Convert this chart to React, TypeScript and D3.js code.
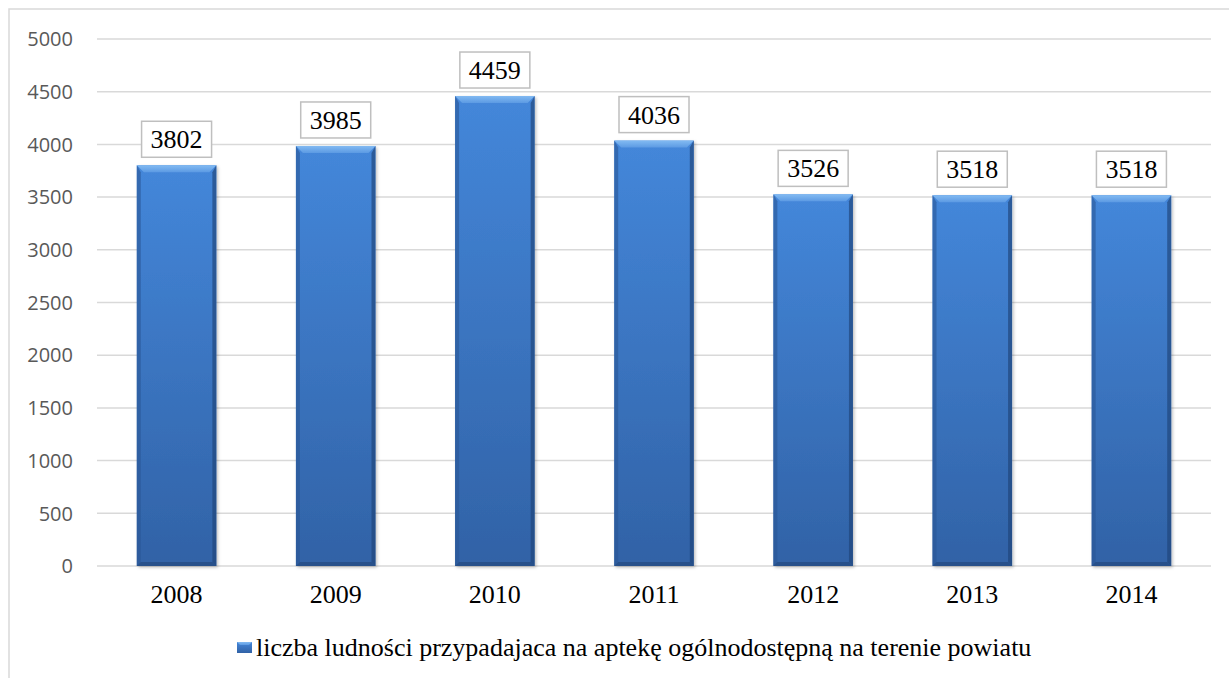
import React from "react";
import * as d3 from "d3";

const years = ["2008", "2009", "2010", "2011", "2012", "2013", "2014"];
const values = [3802, 3985, 4459, 4036, 3526, 3518, 3518];
const yTicks = [0, 500, 1000, 1500, 2000, 2500, 3000, 3500, 4000, 4500, 5000];
const seriesName = "liczba ludności przypadajaca na aptekę ogólnodostępną na terenie powiatu";

const W = 1229;
const H = 678;
const plotLeft = 97;
const plotRight = 1211;
const plotTop = 39;
const plotBottom = 566;

export default function App() {
  const x = d3.scaleBand<string>().domain(years).range([plotLeft, plotRight]).paddingInner(0.5).paddingOuter(0.25);
  const y = d3.scaleLinear().domain([0, 5000]).range([plotBottom, plotTop]);
  const bw = x.bandwidth();
  const serif = "'Liberation Serif', 'DejaVu Serif', serif";
  const sans = "'Open Sans', 'Liberation Sans', sans-serif";
  const bev = 7;
  const side = 4;

  return (
    <svg width={W} height={H} style={{ position: "absolute", left: 0, top: 0 }}>
      <defs>
        <linearGradient id="barGrad" x1="0" y1="0" x2="0" y2="1">
          <stop offset="0" stopColor="#4487da" />
          <stop offset="1" stopColor="#3162a6" />
        </linearGradient>
        <linearGradient id="topGrad" x1="0" y1="0" x2="0" y2="1">
          <stop offset="0" stopColor="#82baf2" />
          <stop offset="1" stopColor="#5c9ae3" />
        </linearGradient>
        <filter id="shadow" x="-20%" y="-5%" width="140%" height="110%">
          <feDropShadow dx="1.5" dy="1.5" stdDeviation="1.5" floodColor="#000" floodOpacity="0.25" />
        </filter>
      </defs>
      <rect x={0} y={0} width={W} height={H} fill="#ffffff" />
      <rect x={9} y={9} width={W + 50} height={H + 50} fill="none" stroke="#d9d9d9" strokeWidth={1.5} />

      {yTicks.map((t) => (
        <g key={t}>
          <line x1={plotLeft} x2={plotRight} y1={y(t)} y2={y(t)} stroke="#d9d9d9" strokeWidth={1.5} />
          <text x={73} y={y(t)} dy="0.36em" textAnchor="end" fontFamily={sans} fontSize={20} fill="#595959">
            {t}
          </text>
        </g>
      ))}

      {years.map((yr, i) => {
        const x0 = x(yr)!;
        const x1 = x0 + bw;
        const y0 = y(values[i]);
        const y1 = plotBottom;
        const cx = x0 + bw / 2;
        return (
          <g key={yr}>
            <g filter="url(#shadow)">
              <rect x={x0} y={y0} width={bw} height={y1 - y0} fill="url(#barGrad)" />
            </g>
            <polygon points={`${x0},${y0} ${x1},${y0} ${x1 - bev},${y0 + bev} ${x0 + bev},${y0 + bev}`} fill="url(#topGrad)" />
            <polygon points={`${x0},${y0} ${x0 + side},${y0 + bev} ${x0 + side},${y1 - side} ${x0},${y1}`} fill="#2a5696" opacity={0.6} />
            <polygon points={`${x1},${y0} ${x1 - side},${y0 + bev} ${x1 - side},${y1 - side} ${x1},${y1}`} fill="#1f4478" opacity={0.65} />
            <polygon points={`${x0},${y1} ${x0 + side},${y1 - side} ${x1 - side},${y1 - side} ${x1},${y1}`} fill="#1f4478" opacity={0.6} />
            <rect x={cx - 35} y={y0 - 44} width={70} height={36} fill="#ffffff" stroke="#bfbfbf" strokeWidth={1.5} />
            <text x={cx} y={y0 - 17} textAnchor="middle" fontFamily={serif} fontSize={26} fill="#000000">
              {values[i]}
            </text>
            <text x={cx} y={603} textAnchor="middle" fontFamily={serif} fontSize={26} fill="#000000">
              {yr}
            </text>
          </g>
        );
      })}

      <g>
        <rect x={237} y={642} width={15} height={11} fill="url(#barGrad)" />
        <polygon points="237,642 252,642 249,645 240,645" fill="url(#topGrad)" />
        <text x={256} y={656} fontFamily={serif} fontSize={26} fill="#000000">
          {seriesName}
        </text>
      </g>
    </svg>
  );
}
